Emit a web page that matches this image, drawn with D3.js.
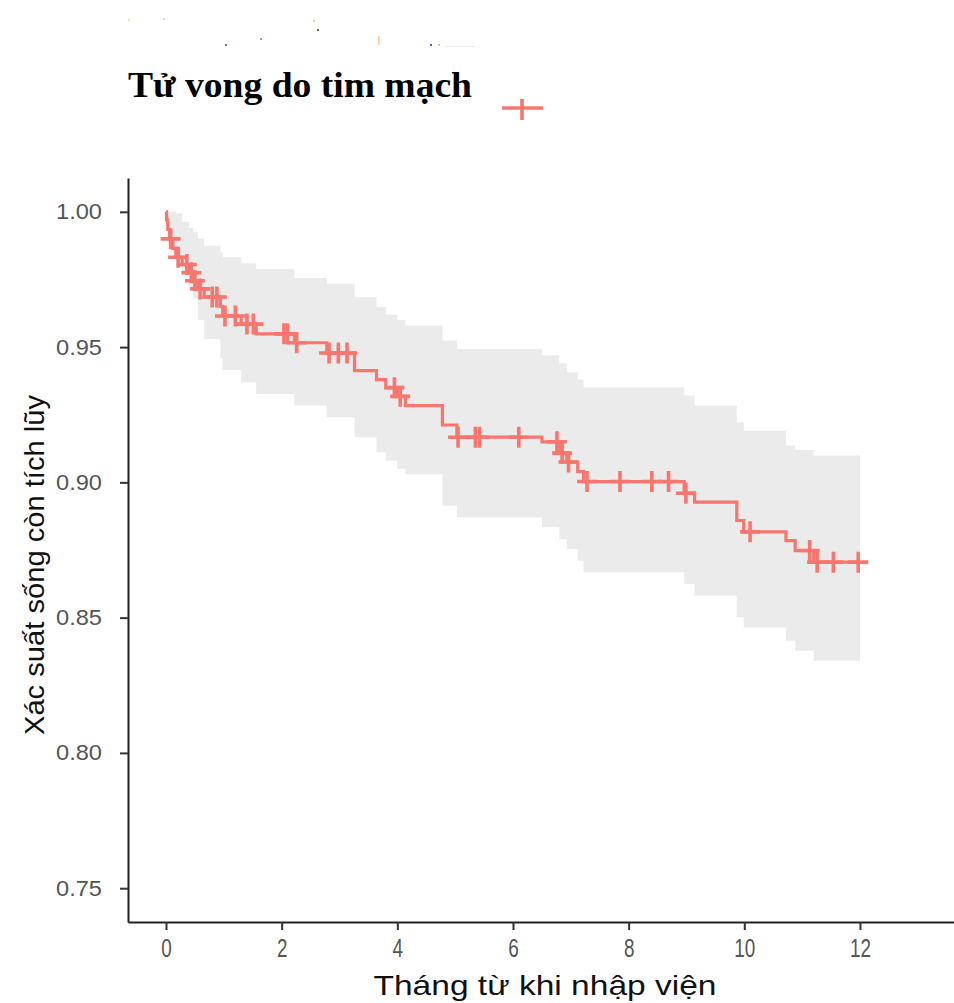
<!DOCTYPE html>
<html>
<head>
<meta charset="utf-8">
<script src="https://cdn.jsdelivr.net/npm/d3@7"></script>
<style>
  html, body { margin: 0; padding: 0; background: #fff; }
  svg { display: block; }
</style>
</head>
<body>
<svg id="chart" width="954" height="1003"></svg>
<script>
// Kaplan–Meier estimate: event times (months), survival after each event, 95% CI bounds
const eventTimes = [0, 0.01, 0.03, 0.06, 0.12, 0.17, 0.28, 0.40, 0.47, 0.55, 0.66, 0.94, 0.98, 1.30, 1.56, 2.22, 2.78, 3.26, 3.64, 3.80, 4.00, 4.14, 4.78, 5.03, 6.50, 6.80, 6.93, 7.12, 7.22, 8.96, 9.14, 9.87, 9.99, 10.72, 10.88, 11.20];
const survival   = [1.000, 0.9970, 0.9935, 0.9900, 0.9865, 0.9832, 0.9805, 0.9775, 0.9745, 0.9715, 0.9685, 0.9650, 0.9615, 0.9585, 0.9549, 0.9516, 0.9478, 0.9413, 0.9380, 0.9350, 0.9318, 0.9284, 0.9212, 0.9167, 0.9150, 0.9108, 0.9075, 0.9040, 0.9003, 0.8960, 0.8927, 0.8859, 0.8817, 0.8785, 0.8748, 0.8705];
const upperCI    = [1.000, 1.000, 1.000, 1.000, 1.000, 0.9995, 0.9962, 0.9940, 0.9925, 0.9900, 0.9875, 0.9850, 0.9832, 0.9810, 0.9789, 0.9755, 0.9734, 0.9684, 0.9648, 0.9620, 0.9600, 0.9580, 0.9524, 0.9493, 0.9470, 0.9440, 0.9407, 0.9380, 0.9352, 0.9321, 0.9284, 0.9222, 0.9191, 0.9136, 0.9120, 0.9099];
const lowerCI    = [1.000, 0.9990, 0.9950, 0.9905, 0.9850, 0.9820, 0.9780, 0.9710, 0.9680, 0.9600, 0.9530, 0.9460, 0.9415, 0.9370, 0.9327, 0.9284, 0.9241, 0.9167, 0.9111, 0.9080, 0.9050, 0.9030, 0.8914, 0.8871, 0.8834, 0.8790, 0.8754, 0.8710, 0.8668, 0.8624, 0.8581, 0.8501, 0.8464, 0.8415, 0.8378, 0.8341];
const followUpEnd = 12;

// Censored observations (months)
const censorTimes = [0.08, 0.21, 0.36, 0.44, 0.50, 0.59, 0.80, 0.88, 1.02, 1.20, 1.40, 1.51, 2.04, 2.10, 2.26, 2.82, 2.98, 3.13, 3.95, 4.05, 5.05, 5.35, 5.42, 6.10, 6.76, 6.85, 6.96, 7.28, 7.85, 8.40, 8.69, 8.99, 10.10, 11.13, 11.26, 11.54, 11.97];

// Axis ticks and labels
const xTicks = [0, 2, 4, 6, 8, 10, 12];
const yTicks = [0.75, 0.80, 0.85, 0.90, 0.95, 1.00];
const legendTitle = "Tử vong do tim mạch";
const xTitle = "Tháng từ khi nhập viện";
const yTitle = "Xác suất sống còn tích lũy";
const curveColor = "#F8766D";

const svg = d3.select("#chart");

const x = d3.scaleLinear().domain([-0.657, 13.626]).range([128, 954]);
const y = d3.scaleLinear().domain([0.7375, 1.0125]).range([922, 178]);

// faint leftover specks above the legend
const specks = [[128, 19, "#f3e3a0"], [163, 18, "#ddd"], [225, 44, "#a07850"], [260, 38, "#7fa8e8"], [313, 20, "#f0c890"], [317, 29, "#806050"], [430, 44, "#4060c0"], [438, 44, "#e8c890"]];
svg.append("g").selectAll("rect").data(specks).join("rect")
  .attr("x", d => d[0]).attr("y", d => d[1]).attr("width", 2).attr("height", 2).attr("fill", d => d[2]);
svg.append("rect").attr("x", 378).attr("y", 36).attr("width", 1.5).attr("height", 9).attr("fill", "#f2cf8c");
svg.append("rect").attr("x", 445).attr("y", 46).attr("width", 30).attr("height", 1).attr("fill", "#eee");

// step table, extended to the end of follow-up
const steps = eventTimes.map((t, i) => ({ t, s: survival[i], hi: upperCI[i], lo: lowerCI[i] }));
steps.push({ t: followUpEnd, s: survival[survival.length - 1], hi: upperCI[upperCI.length - 1], lo: lowerCI[lowerCI.length - 1] });

const survAt = t => {
  let s = survival[0];
  for (let i = 0; i < eventTimes.length; i++) if (eventTimes[i] <= t) s = survival[i];
  return s;
};

// confidence band
svg.append("path")
  .datum(steps)
  .attr("fill", "#EBEBEB")
  .attr("d", d3.area().curve(d3.curveStepAfter)
    .x(d => x(d.t)).y0(d => y(d.lo)).y1(d => y(d.hi)));

// survival curve
svg.append("path")
  .datum(steps)
  .attr("fill", "none")
  .attr("stroke", curveColor)
  .attr("stroke-width", 3.2)
  .attr("d", d3.line().curve(d3.curveStepAfter).x(d => x(d.t)).y(d => y(d.s)));

// censor marks
const plus = (cx, cy, w, h) => `M${cx - w / 2},${cy}H${cx + w / 2}M${cx},${cy - h / 2}V${cy + h / 2}`;
svg.append("g").selectAll("path")
  .data(censorTimes)
  .join("path")
  .attr("fill", "none")
  .attr("stroke", curveColor)
  .attr("stroke-width", 3.6)
  .attr("d", t => plus(x(t), y(survAt(t)), 20, 21));

// axes
const yAxis = svg.append("g")
  .attr("transform", "translate(128,0)")
  .call(d3.axisLeft(y).tickValues(yTicks).tickFormat(d3.format(".2f")).tickSize(8).tickSizeOuter(0).tickPadding(18));
const xAxis = svg.append("g")
  .attr("transform", "translate(0,922)")
  .call(d3.axisBottom(x).tickValues(xTicks).tickFormat(d3.format("d")).tickSize(8).tickSizeOuter(0).tickPadding(9));

[yAxis, xAxis].forEach(g => {
  g.select(".domain").attr("stroke", "#222").attr("stroke-width", 2);
  g.selectAll(".tick line").attr("stroke", "#333").attr("stroke-width", 2);
  g.selectAll(".tick text")
    .attr("fill", "#555")
    .style("font-family", "'Liberation Sans', Arial, sans-serif")
    .style("font-size", "22px");
});
yAxis.selectAll(".tick text").attr("textLength", 46).attr("lengthAdjust", "spacingAndGlyphs");
// month labels are drawn taller and narrower
xAxis.selectAll(".tick text")
  .style("font-size", "26px")
  .attr("textLength", d => String(d).length * 10.5)
  .attr("lengthAdjust", "spacingAndGlyphs");

// axis titles
svg.append("text")
  .attr("x", 545).attr("y", 995)
  .attr("text-anchor", "middle")
  .attr("textLength", 343).attr("lengthAdjust", "spacingAndGlyphs")
  .style("font-family", "'Liberation Sans', Arial, sans-serif")
  .style("font-size", "28px")
  .attr("fill", "#111")
  .text(xTitle);

svg.append("text")
  .attr("transform", "translate(44,565) rotate(-90)")
  .attr("text-anchor", "middle")
  .attr("textLength", 340).attr("lengthAdjust", "spacingAndGlyphs")
  .style("font-family", "'Liberation Sans', Arial, sans-serif")
  .style("font-size", "28px")
  .attr("fill", "#111")
  .text(yTitle);

// legend
svg.append("text")
  .attr("x", 128).attr("y", 97)
  .attr("textLength", 344).attr("lengthAdjust", "spacingAndGlyphs")
  .style("font-family", "'Liberation Serif', 'Times New Roman', serif")
  .style("font-weight", "bold")
  .style("font-size", "36px")
  .attr("fill", "#000")
  .text(legendTitle);

const legendKey = svg.append("g").attr("transform", "translate(522,108)");
legendKey.append("line").attr("x1", -20).attr("x2", 21).attr("y1", 0).attr("y2", 0)
  .attr("stroke", curveColor).attr("stroke-width", 3.6);
legendKey.append("line").attr("x1", 0).attr("x2", 0).attr("y1", -9).attr("y2", 12)
  .attr("stroke", curveColor).attr("stroke-width", 3.6);
</script>
</body>
</html>
